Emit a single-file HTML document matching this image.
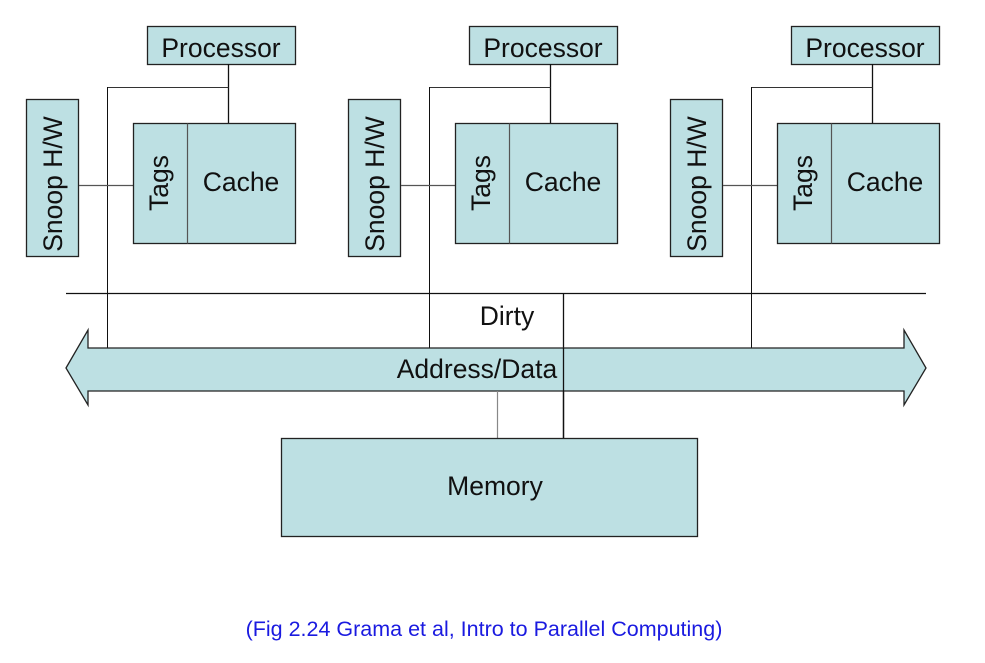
<!DOCTYPE html>
<html><head><style>body{margin:0;background:#fff}</style></head><body>
<svg width="985" height="658" xmlns="http://www.w3.org/2000/svg" font-family="Liberation Sans, Arial, sans-serif">
<defs>
<g id="grp">
<rect x="147.5" y="26.5" width="148" height="38" fill="#bde0e3" stroke="#222" stroke-width="1.3"/>
<text x="221" y="57" font-size="26.5" text-anchor="middle" fill="#111">Processor</text>
<line x1="228.5" y1="64" x2="228.5" y2="123" stroke="#111" stroke-width="1.3"/>
<line x1="107.5" y1="87.5" x2="228.5" y2="87.5" stroke="#333" stroke-width="1"/>
<line x1="107.5" y1="87" x2="107.5" y2="348" stroke="#111" stroke-width="1"/>
<rect x="26.5" y="99.5" width="52" height="157" fill="#bde0e3" stroke="#222" stroke-width="1.3"/>
<text transform="translate(62,184) rotate(-90)" font-size="26.5" text-anchor="middle" fill="#111">Snoop H/W</text>
<line x1="79" y1="185.5" x2="133" y2="185.5" stroke="#555" stroke-width="1.2"/>
<rect x="133.5" y="123.5" width="162" height="120" fill="#bde0e3" stroke="#222" stroke-width="1.3"/>
<line x1="187.5" y1="123.5" x2="187.5" y2="243.5" stroke="#555" stroke-width="1.2"/>
<text transform="translate(168,183) rotate(-90)" font-size="26.5" text-anchor="middle" fill="#111">Tags</text>
<text x="241" y="191" font-size="26.5" text-anchor="middle" fill="#111">Cache</text>
</g>
</defs>
<use href="#grp"/>
<use href="#grp" transform="translate(322,0)"/>
<use href="#grp" transform="translate(644,0)"/>
<line x1="66" y1="293.5" x2="926" y2="293.5" stroke="#111" stroke-width="1.3"/>
<line x1="563.5" y1="293" x2="563.5" y2="438" stroke="#111" stroke-width="1.3"/>
<text x="507" y="325" font-size="26.5" text-anchor="middle" fill="#111">Dirty</text>
<polygon points="66,368 88,330 88,348 904,348 904,330 926,368 904,405 904,391 88,391 88,405" fill="#bde0e3" stroke="#222" stroke-width="1.3"/>
<line x1="563.5" y1="348" x2="563.5" y2="391" stroke="#111" stroke-width="1.3"/>
<text x="477" y="378" font-size="26.5" text-anchor="middle" fill="#111">Address/Data</text>
<line x1="497.5" y1="391" x2="497.5" y2="438" stroke="#888" stroke-width="1.2"/>
<rect x="281.5" y="438.5" width="416" height="98" fill="#bde0e3" stroke="#222" stroke-width="1.3"/>
<line x1="563.5" y1="391" x2="563.5" y2="438" stroke="#111" stroke-width="1.3"/>
<text x="495" y="495" font-size="26.5" text-anchor="middle" fill="#111">Memory</text>
<text x="484" y="636" font-size="21.5" text-anchor="middle" fill="#1a1ae0">(Fig 2.24 Grama et al, Intro to Parallel Computing)</text>
</svg>
</body></html>
